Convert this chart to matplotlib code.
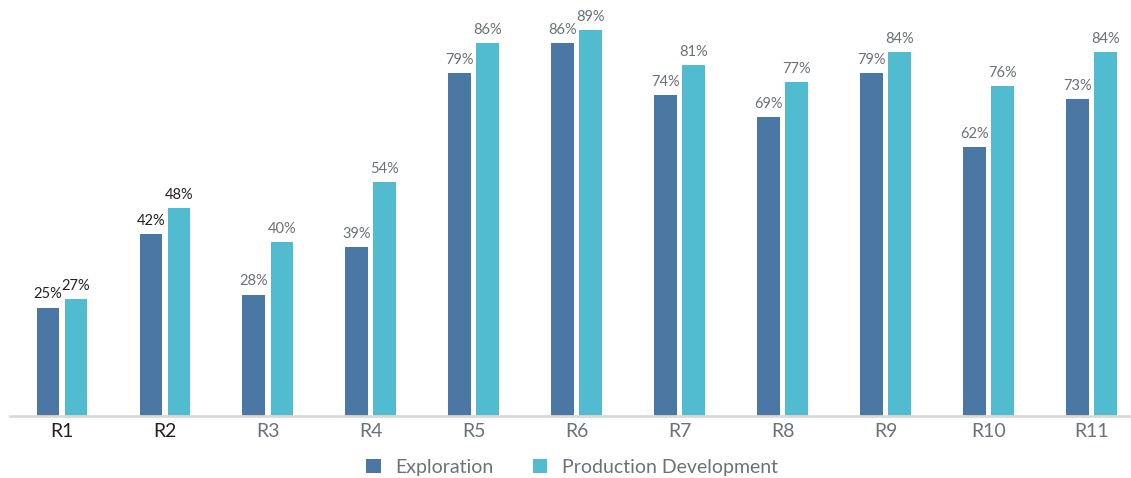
import matplotlib.pyplot as plt
import numpy as np

regions = ["R1", "R2", "R3", "R4", "R5", "R6", "R7", "R8", "R9", "R10", "R11"]
exploration = [25, 42, 28, 39, 79, 86, 74, 69, 79, 62, 73]
production = [27, 48, 40, 54, 86, 89, 81, 77, 84, 76, 84]
# first two regions are shown in dark text, the rest in grey
dark_regions = ["R1", "R2"]

c_expl = "#4a77a3"
c_prod = "#51bbd0"
grey = "#6b7277"
dark = "#222222"

plt.rcParams["font.family"] = ["Lato", "DejaVu Sans"]

fig = plt.figure(figsize=(11.31, 4.78), dpi=100)
ax = fig.add_axes([10 / 1131, 62 / 478, 1121 / 1131, 416 / 478])

x = np.arange(len(regions))
w = 0.223
off = 0.136
b1 = ax.bar(x - off, exploration, w, color=c_expl, label="Exploration")
b2 = ax.bar(x + off, production, w, color=c_prod, label="Production Development")

for bars, vals in ((b1, exploration), (b2, production)):
    for i, (rect, v) in enumerate(zip(bars, vals)):
        col = dark if regions[i] in dark_regions else grey
        ax.text(rect.get_x() + rect.get_width() / 2, v + 1.4, f"{v}%",
                ha="center", va="bottom", fontsize=10.5, color=col)

ax.set_xlim(-0.505, 10.38)
ax.set_ylim(0, 95.9)
ax.set_xticks(x)
ax.set_xticklabels(regions, fontsize=14)
for lbl in ax.get_xticklabels():
    lbl.set_color(dark if lbl.get_text() in dark_regions else grey)
ax.tick_params(axis="x", length=0, pad=5)
ax.set_yticks([])
for s in ("top", "right", "left"):
    ax.spines[s].set_visible(False)
ax.spines["bottom"].set_color("#d9d9d9")
ax.spines["bottom"].set_linewidth(2)

leg = fig.legend(handles=[b1, b2], loc="center", bbox_to_anchor=(572 / 1131, 1 - 467 / 478),
                 ncol=2, frameon=False, fontsize=14, handlelength=0.75, handleheight=0.75,
                 handletextpad=0.75, columnspacing=2.0)
for t in leg.get_texts():
    t.set_color(grey)

fig.savefig("out.png", dpi=100)
